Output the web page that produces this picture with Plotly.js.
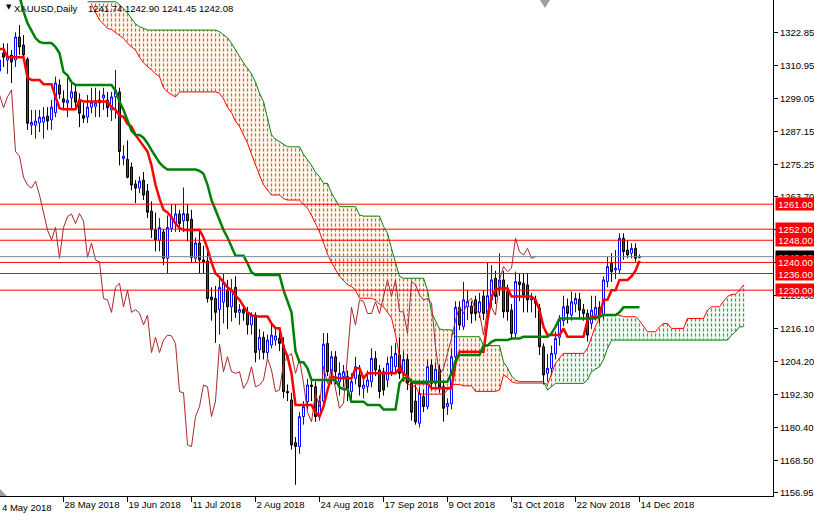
<!DOCTYPE html>
<html><head><meta charset="utf-8">
<script src="https://cdn.plot.ly/plotly-3.0.1.min.js"></script>
<style>html,body{margin:0;padding:0;background:#fff}#chart{width:814px;height:514px}</style>
</head><body><div id="chart"></div>
<script>
const tickBars = [16,32,48,64,80,96,112,128,144,160];
const tickDates = ['28 May 2018','19 Jun 2018','11 Jul 2018','2 Aug 2018','24 Aug 2018','17 Sep 2018','9 Oct 2018','31 Oct 2018','22 Nov 2018','14 Dec 2018'];
const firstDate = '4 May 2018';
const priceTicks = [1322.85,1310.95,1299.05,1287.15,1275.25,1263.70,1251.80,1239.90,1228.00,1216.10,1204.20,1192.30,1180.40,1168.50,1156.95];
const levels = [1261,1252,1248,1240,1236,1230];
const bid = 1242.08;
const header = 'XAUUSD,Daily';
const headerQuote = '1241.74 1242.90 1241.45 1242.08';
const chikouShift = 26;

const open = [1309,1315.5,1313,1314.8,1313,1321.3,1318.4,1313.3,1289.5,1289.5,
1290.3,1290.6,1292.8,1291.4,1294,1304,1299,1297.5,1299.3,1301.5,
1298.5,1293,1292.4,1296,1296.3,1298.6,1299.3,1298.6,1295,1299.7,
1301.5,1277.5,1277.2,1274.4,1268.3,1266.8,1269.7,1265.7,1258.5,1251.7,
1248,1251,1241.5,1252.2,1254,1257.5,1255,1257.5,1255.6,1241.5,
1247,1240.9,1240.5,1227.5,1227,1223,1225.7,1230,1224,1231,
1222,1223,1222,1217.5,1221,1208.5,1213,1207.5,1210.2,1212,
1212.6,1210.2,1193.5,1190.4,1175,1173.6,1184.4,1189.8,1195.8,1195.2,
1185,1190,1210.8,1200.6,1206,1197,1198.8,1198.8,1193.4,1198.2,
1199.4,1194.6,1195.2,1197,1205.4,1201.2,1200.6,1197.6,1200.6,1202.4,
1206.6,1200,1205,1196.4,1190,1182,1191.6,1188,1203,1196.4,
1201.5,1195.2,1188,1189,1206,1223.8,1216.8,1224,1224.3,1226.5,
1222,1227.9,1221.6,1226.5,1234.3,1231.3,1233.7,1229.5,1222.8,1214.4,
1233,1232.5,1231.9,1226.5,1226.5,1223.6,1209.6,1200,1201.8,1207,
1213,1219,1224.3,1221,1225,1226.7,1223,1221.6,1218,1221,
1223.8,1221,1233.1,1239.7,1237.3,1237.3,1248.7,1244.5,1243.3,1245.1,
1241.74];
const high = [1318,1319,1319,1316.6,1323,1325.6,1322,1314,1295,1295,
1295,1296,1296,1298.6,1307,1306,1302,1306.5,1304.7,1304,
1301,1297.5,1300.4,1303,1303,1302,1303,1301.5,1301.5,1309.4,
1303,1282.3,1284,1276,1269.7,1271,1272.6,1268.3,1262,1258,
1256,1252,1257,1261,1261,1259,1267,1261,1259,1249,
1252,1246,1245,1231,1231.5,1234,1236,1233.7,1234,1235,
1225,1224.5,1224,1222,1222,1216,1215,1214,1218,1216,
1215,1213,1196,1193,1177,1186,1190,1198,1198,1197,
1192,1214.5,1214.5,1208,1208,1204,1203,1201,1200,1206,
1203,1199,1201,1209,1208,1203,1202,1206,1210,1211,
1213,1208,1207,1198,1195.8,1195,1194,1205,1205,1204,
1203,1197,1191,1209,1226,1226,1233,1230,1226,1228,
1229,1230,1240,1239,1237,1243.3,1237,1232,1225,1236.7,
1236,1236,1236,1229,1228,1225,1210.8,1207,1210,1215,
1221,1228,1227,1229.5,1229,1229,1225,1223,1228,1228,
1226,1235,1242,1243.3,1244.5,1250.5,1250.5,1248,1246.9,1246.9,
1242.9];
const low = [1305,1310.5,1308,1304.7,1310.5,1314.8,1313,1287.8,1286,1284.7,
1287,1284.7,1287.8,1287.8,1292.4,1299,1295,1292.4,1295,1295,
1288.8,1290.3,1290.3,1293.8,1292.4,1292.4,1295,1292.4,1291,1291.8,
1275,1275,1270.3,1266,1261.4,1265,1262.5,1256,1248.8,1244,
1244,1239,1236,1251,1251,1251,1251,1247.6,1240,1240,
1236,1236,1225.5,1219,1211,1214,1218,1216,1218.7,1220,
1217.5,1219,1214,1214,1204,1205,1205,1205.5,1209,1210,
1208,1191,1190,1172.5,1159.8,1171,1181.5,1187,1190,1182.5,
1183,1189,1199,1196,1196,1192,1195,1190,1190,1196,
1192,1191,1193,1195,1199,1191,1192,1195,1199,1200,
1198,1197,1194,1183,1181.5,1180.5,1186,1187,1194,1194.6,
1193,1182.6,1185,1187,1204.5,1215.6,1215.6,1219.2,1218,1219,
1220,1219.2,1220,1224,1225,1228,1220,1219,1212,1213,
1226,1222,1222,1222,1220,1206.6,1196,1197,1199.4,1205,
1210,1217,1218,1219,1222,1220,1219,1211.5,1216,1219,
1218,1219.5,1231,1233,1234,1236,1241,1241.5,1241.5,1240.3,
1241.45];
const close = [1313,1314,1314.5,1312.3,1321.3,1317.7,1314.8,1290.2,1290.5,1291,
1292.4,1292.4,1291,1296,1304.7,1300.7,1297.8,1298.5,1301.5,1297.8,
1293.8,1292,1296,1297.8,1297.5,1297.5,1300.4,1295.8,1299.7,1302.2,
1280,1278.3,1270.7,1267.9,1266.8,1269.3,1264.3,1258.1,1251.7,1248.1,
1252.6,1241.5,1252.6,1256.5,1257.5,1254,1257.6,1255,1241.8,1247,
1240.9,1240.2,1227,1226.5,1222,1231,1232.5,1224,1230,1222,
1223,1221.7,1217.5,1221,1207.5,1213,1207.5,1212,1213.8,1213.5,
1210.8,1193.4,1193,1174.2,1173.6,1184.4,1188,1195.8,1195.2,1184.4,
1190,1210.5,1200.6,1206,1200.6,1200,1200.6,1194.6,1197,1202.4,
1195.2,1195.8,1197.6,1205.4,1201.2,1193.4,1194,1203.6,1206,1207.2,
1200,1205,1196.5,1186,1182.5,1192.8,1188,1202.4,1196.4,1201.5,
1195,1187.4,1189.2,1206,1223.8,1217.4,1226.5,1226,1221.6,1221.6,
1225.8,1221.6,1228,1233.7,1227.7,1233.7,1222.2,1222.2,1214.4,1233.1,
1232,1228.3,1226.5,1227,1225.3,1209.6,1199.4,1201.8,1207.2,1212.6,
1219.2,1224,1221.6,1225.8,1227,1222.8,1221.6,1213.8,1222.8,1223.8,
1221,1233.7,1238.5,1236.7,1237.9,1248.7,1243.9,1242.7,1245.1,1241.5,
1242.08];

const tenkan = [1317,1317,1314,1314,1314,1314,1314,1306.8,1305.8,1305.8,
1305.8,1304.3,1304.3,1304.3,1299.7,1295.6,1295.2,1295.2,1295.2,1295.2,
1298.6,1298,1298,1298,1298,1298,1298,1298,1296,1295,
1293,1292.5,1290,1289,1286,1284,1282,1280,1275,1268,
1263,1259,1258,1256.3,1254,1252.4,1251.7,1251.7,1251.7,1251.7,
1251.7,1249,1245,1240,1236,1234.7,1233,1231,1230,1228,
1226.5,1224,1222,1221,1220.5,1220.5,1220.5,1220.5,1218,1216.3,
1216.3,1209.6,1206,1200,1188.6,1188.6,1188.6,1188.6,1188.6,1186,
1184.4,1188,1194,1198.8,1198.5,1198.2,1198.2,1198.2,1198.2,1201.8,
1201.8,1198.2,1200,1200,1200,1200,1200,1200,1200,1200,
1201.8,1200,1198.8,1197,1196.4,1196.4,1196.4,1196.4,1194.6,1194.6,
1194.6,1194.6,1194.6,1194.6,1203.6,1207.8,1207.8,1207.8,1207.8,1207.8,
1207.8,1207.8,1219,1227.7,1230,1230.7,1230.7,1230.7,1227.7,1227.7,
1227.7,1227.7,1227.7,1227.7,1226.5,1222.8,1216.8,1213.8,1213.8,1213.8,
1213.8,1216.2,1213.2,1213.2,1213.2,1213.2,1213.2,1219.2,1220.4,1220.4,
1220.4,1226.5,1226.5,1230,1230,1233.7,1233.7,1233.7,1235,1237,
1240.6];
const kijun = [null,null,null,null,null,1336,1330.5,1326.3,1323.8,1320.9,
1319.5,1319.1,1319.1,1319.1,1317.7,1315.5,1308.7,1307.5,1305,1304,
1304,1304,1304,1304,1304,1304,1304,1304,1304,1302,
1298,1295,1291,1287.5,1286,1286,1285,1283,1280.5,1278,
1276,1274.5,1273.5,1273.5,1273.5,1273.5,1273.5,1273.5,1273.5,1273.5,
1273,1272,1268,1262.5,1258.9,1255,1251.7,1249,1245.7,1242.4,
1242.4,1242.4,1239.7,1236.5,1235.5,1235.5,1235.5,1235.5,1235.5,1235.5,
1235.5,1230,1226,1222,1208,1204,1204,1201.8,1197.6,1197.6,
1197.6,1197.6,1197.6,1197.6,1197.6,1195,1194.3,1194.3,1189.8,1189.8,
1189.8,1189.8,1188.6,1188.6,1188.6,1188.6,1187,1187,1187,1187,
1196.4,1198.2,1198.2,1197,1197,1197,1197,1197,1197,1197,
1197,1197,1197,1200,1204.5,1206.6,1206.6,1206.6,1206.6,1206.6,
1206.6,1210,1210,1211.4,1212,1212,1212,1212,1212.6,1212.6,
1212.6,1213.2,1213.2,1213.2,1213.2,1213.2,1213.2,1213.2,1214.4,1216.8,
1219.8,1219.8,1219.8,1219.8,1219.8,1219.8,1219.8,1219.8,1219.8,1219.8,
1220.4,1221,1221,1221,1221,1222,1223.8,1223.8,1223.8,1223.8,
1223.8];
const senkouA = [null,null,null,null,null,null,null,null,null,null,
null,null,null,null,null,null,null,null,null,null,
null,null,null,1333,1330,1327.4,1326,1324.4,1324,1323,
1322,1320.8,1319,1317.8,1316.6,1314,1312,1310.6,1309.5,1308,
1307,1303,1301.5,1300.5,1299.7,1301.5,1301.5,1301.5,1301.5,1301.5,
1301.5,1301.5,1301.5,1301.5,1301.5,1301,1299,1296,1294,1291,
1289,1286,1283,1279,1275,1271.5,1268,1266,1264.3,1264.3,
1264.3,1263,1262.5,1262.5,1262.5,1262.5,1261,1259.5,1257,1254,
1251,1247,1243,1240,1237.3,1235,1233.5,1232,1231.3,1230,
1227.1,1227.1,1227.1,1227.1,1226.4,1225,1224,1222,1220,1214,
1206,1198,1196,1195.5,1195.2,1192.5,1192.5,1192.5,1192.5,1192.5,
1192.5,1192.5,1194,1196,1196,1196,1195.5,1195.5,1195.5,1193.5,
1193.5,1193.5,1193.5,1193.5,1193.5,1194,1199.5,1198.5,1197,1196.5,
1196.5,1196.5,1196.5,1196.5,1196.5,1196.5,1196.5,1196,1200,1203.6,
1205.5,1207.2,1207.2,1207.2,1207.2,1207.2,1207.2,1209,1213,1217,
1220,1221,1221,1221,1221,1221,1220.4,1220.4,1220.4,1220.4,
1219,1217,1215,1215,1215,1216.8,1218,1218,1216.2,1216.2,
1216.2,1216.2,1219.8,1219.8,1219.8,1219.8,1219.8,1222.8,1224,1224,
1224,1226,1227.7,1228.5,1228.5,1230,1231.9];
const senkouB = [null,null,null,null,null,null,null,null,null,null,
null,null,null,null,null,null,null,null,null,null,
null,null,1334,1334,1334,1334,1334,1334,1334,1334,
1333,1331.5,1330,1328,1326,1325,1324.4,1323.8,1323.8,1323.8,
1323.8,1323.8,1323.8,1323.8,1323.8,1323.8,1323.8,1323.8,1323.8,1323.8,
1323.8,1323.8,1323.8,1323.8,1323.8,1323.2,1322,1321,1319,1316.6,
1314.5,1312,1310,1308,1305,1301,1298,1292,1286,1284.5,
1283.6,1282.5,1281.7,1281.7,1281.7,1281.7,1279,1277,1275,1272.5,
1270.9,1268.5,1268.5,1265,1262.5,1260.1,1260.1,1260.1,1260.1,1260.1,
1257.1,1256.7,1256.7,1256.7,1256.7,1256.7,1253,1250.5,1245,1240,
1235,1234.3,1234.3,1234.3,1234.3,1234.3,1234.3,1230,1222,1219,
1216,1215.7,1215.7,1215.7,1213.2,1213.2,1213.2,1213.2,1213.2,1213.2,
1213.2,1210,1210,1210,1210,1210,1204,1202,1199,1197.6,
1197,1197,1197,1197,1197,1197,1197,1194,1195.2,1196.4,
1196.4,1196.4,1196.4,1196.4,1196.4,1196.4,1196.4,1197.6,1200.6,1201.5,
1202.4,1205,1209,1212,1212,1212,1212,1212,1212,1212,
1212,1212,1212,1212,1212,1212,1212,1212,1212,1212,
1212,1212,1212,1212,1212,1212,1212,1212,1212,1212,
1212,1212,1212,1213.8,1215,1216.8,1216.8];

const bars = close.map((_, i) => i);
const cloudBars = senkouA.map((_, i) => i);
const bear = {x:[], base:[], h:[]}, bull = {x:[], base:[], h:[]};
cloudBars.forEach(i => {
  const a = senkouA[i], b = senkouB[i];
  if (a == null || b == null) return;
  const hi = Math.max(a, b), lo = Math.min(a, b);
  const g = (b > a) ? bear : bull;
  g.x.push(i); g.base.push(lo); g.h.push(hi - lo);
});
const chX = [], chY = [];
for (let i = 0; i + chikouShift < close.length; i++) { chX.push(i); chY.push(close[i + chikouShift]); }

function hatch(g, col) {
  return {type:'bar', x:g.x, y:g.h, base:g.base, width:0.34, hoverinfo:'skip',
    marker:{color:col, line:{width:0}, pattern:{shape:'-', fgcolor:'#FFFFFF', bgcolor:col, size:5, solidity:0.35, fillmode:'replace'}}};
}

const traces = [
  hatch(bear, '#FF6200'),
  hatch(bull, '#2EAA5A'),
  {type:'scatter', mode:'lines', x:cloudBars, y:senkouA, line:{color:'#FF0000', width:1}, hoverinfo:'skip'},
  {type:'scatter', mode:'lines', x:cloudBars, y:senkouB, line:{color:'#008000', width:1}, hoverinfo:'skip'},
  {type:'scatter', mode:'lines', x:chX, y:chY, line:{color:'#A52A2A', width:1}, hoverinfo:'skip'},
  {type:'candlestick', x:bars, open:open, high:high, low:low, close:close, whiskerwidth:0,
   increasing:{line:{color:'#0000FF', width:1}, fillcolor:'#FFFFFF'},
   decreasing:{line:{color:'#000000', width:1}, fillcolor:'#FF0000'}, hoverinfo:'skip'},
  {type:'scatter', mode:'lines', x:bars, y:tenkan, line:{color:'#FF0000', width:2.5}, hoverinfo:'skip'},
  {type:'scatter', mode:'lines', x:bars, y:kijun, line:{color:'#008000', width:2.5}, hoverinfo:'skip'}
];

const shapes = [];
shapes.push({type:'line', xref:'paper', x0:0, x1:1, yref:'y', y0:bid, y1:bid, line:{color:'#778899', width:1}});
levels.forEach(v => shapes.push({type:'line', xref:'paper', x0:0, x1:1, yref:'y', y0:v, y1:v, line:{color:'#FF0000', width:1}}));
shapes.push({type:'path', xref:'paper', yref:'paper', path:'M 0.6985 1 L 0.7115 1 L 0.705 0.984 Z', fillcolor:'#A0A0A0', line:{width:0}});
shapes.push({type:'path', xref:'paper', yref:'paper', path:'M 0 0 L 0 0.014 L 0.009 0 Z', fillcolor:'#A0A0A0', line:{width:0}});

const fnt = {family:'Liberation Sans, Arial, sans-serif', size:9.5, color:'#000'};
const annotations = [];
annotations.push({xref:'paper', yref:'paper', x:0, y:0, xanchor:'left', yanchor:'top', yshift:-4, text:firstDate, showarrow:false, font:fnt});
annotations.push({xref:'paper', yref:'paper', x:4/773, y:1, xanchor:'left', yanchor:'top', yshift:-1, text:'▼', showarrow:false, font:{family:'DejaVu Sans', size:7, color:'#000'}});
annotations.push({xref:'paper', yref:'paper', x:12/773, y:1, xanchor:'left', yanchor:'top', yshift:-1, text:header, showarrow:false, font:fnt});
annotations.push({xref:'paper', yref:'paper', x:86/773, y:1, xanchor:'left', yanchor:'top', yshift:-1, text:headerQuote, showarrow:false, font:fnt});
annotations.push({xref:'paper', yref:'y', x:1, y:bid, xanchor:'left', yanchor:'middle', xshift:2, text:bid.toFixed(2), showarrow:false, bgcolor:'#000000', font:{family:fnt.family, size:9.5, color:'#FFFFFF'}, width:37, height:10, borderpad:1});
levels.forEach(v => annotations.push({xref:'paper', yref:'y', x:1, y:v, xanchor:'left', yanchor:'middle', xshift:2, text:v.toFixed(2), showarrow:false, bgcolor:'#FF0000', font:{family:fnt.family, size:9.5, color:'#FFFFFF'}, width:37, height:10, borderpad:1}));

const layout = {
  width:814, height:514,
  margin:{l:0, r:41, t:0, b:18, pad:0},
  paper_bgcolor:'#FFFFFF', plot_bgcolor:'#FFFFFF',
  showlegend:false, hovermode:false, dragmode:false, barmode:'overlay',
  font:fnt,
  xaxis:{range:[0.125,193.375], showgrid:false, zeroline:false, showline:true, linecolor:'#000', linewidth:1,
    ticks:'outside', ticklen:5, tickcolor:'#000', tickwidth:1, tickvals:tickBars, ticktext:tickDates,
    ticklabelposition:'outside right', tickfont:fnt, rangeslider:{visible:false}, fixedrange:true},
  yaxis:{side:'right', range:[1155.77,1334.64], showgrid:false, zeroline:false, showline:true, linecolor:'#000', linewidth:1,
    ticks:'outside', ticklen:4, tickcolor:'#000', tickwidth:1, tickvals:priceTicks, ticktext:priceTicks.map(v => v.toFixed(2)),
    tickfont:fnt, fixedrange:true},
  shapes:shapes, annotations:annotations
};
Plotly.newPlot('chart', traces, layout, {staticPlot:true, displayModeBar:false});
</script></body></html>
